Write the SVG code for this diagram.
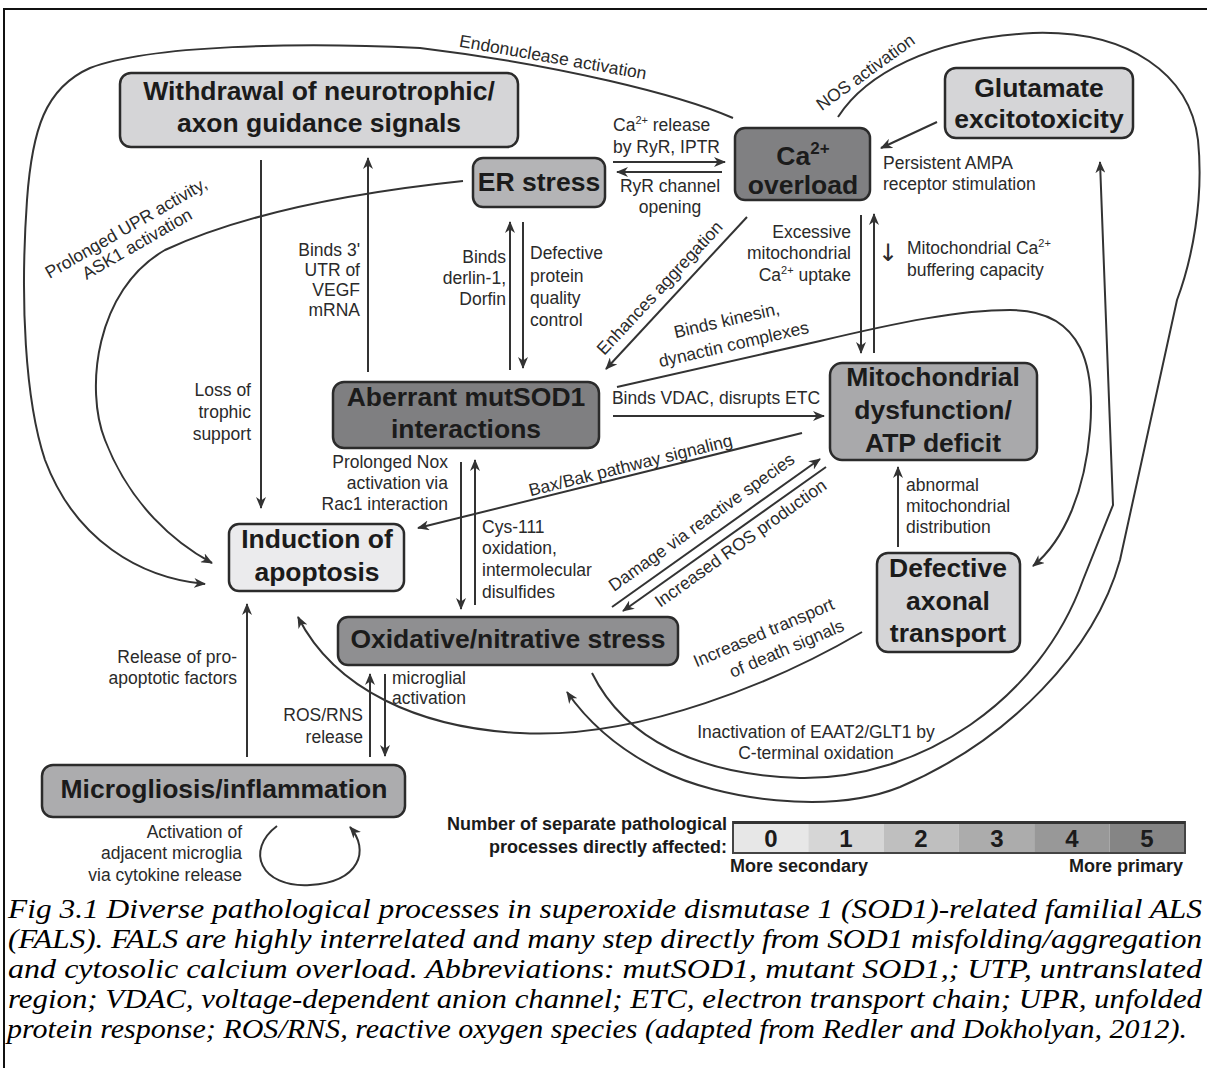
<svg xmlns="http://www.w3.org/2000/svg" width="1207" height="1068" viewBox="0 0 1207 1068">
<defs>
<style>
.box{stroke:#2b2b2b;stroke-width:2.5}
.t{font-family:"Liberation Sans",Arial,sans-serif;font-weight:bold;font-size:26.5px;fill:#1b1b1b;text-anchor:middle}
.l{font-family:"Liberation Sans",Arial,sans-serif;font-size:17.5px;fill:#2a2a2a}
.m{text-anchor:middle}
.e{text-anchor:end}
.c{fill:none;stroke:#333;stroke-width:2}
.a{marker-end:url(#ah)}
.lg{font-family:"Liberation Sans",Arial,sans-serif;font-weight:bold;font-size:18px;fill:#1b1b1b}
.num{font-family:"Liberation Sans",Arial,sans-serif;font-weight:bold;font-size:24px;fill:#1b1b1b;text-anchor:middle}
.cap{font-family:"Liberation Serif","Times New Roman",serif;font-style:italic;font-size:28px;fill:#000}
.sym{font-family:"DejaVu Sans",sans-serif;font-size:24px;fill:#2a2a2a;text-anchor:middle}
</style>
<marker id="ah" viewBox="0 0 12 10" refX="11" refY="5" markerWidth="12" markerHeight="10" markerUnits="userSpaceOnUse" orient="auto">
<path d="M0,0 L12,5 L0,10 L3.5,5 z" fill="#333"/>
</marker>
</defs>
<rect width="1207" height="1068" fill="#fff"/>
<path d="M4,1068 L4,9 L1207,9" fill="none" stroke="#111" stroke-width="2"/>

<g id="connectors">
<path class="c a" d="M733,118 C680,95 560,65 420,48 C300,42 150,45 90,68 C45,88 32,130 27,200 C20,300 25,400 45,460 C75,540 140,578 205,584"/>
<path class="c a" d="M463,181 C330,195 230,220 165,250 C95,290 85,390 105,440 C130,505 175,543 212,563"/>
<path class="c a" d="M261,160 L261,508"/>
<path class="c a" d="M368,372 L368,158"/>
<path class="c a" d="M510,370 L510,222"/>
<path class="c a" d="M523,222 L523,368"/>
<path class="c a" d="M613,162 L725,162"/>
<path class="c a" d="M722,172 L617,172"/>
<path class="c a" d="M937,122 L881,148"/>
<path class="c a" d="M838,117 C865,75 930,38 1033,33 C1130,30 1190,75 1198,140 C1204,200 1192,260 1177,300 L1120,560 C1095,650 1010,740 900,787 C830,815 720,800 660,770 C620,750 590,725 567,692"/>
<path class="c a" d="M592,673 C625,740 700,775 800,778 C920,780 1040,700 1083,580 L1113,505 L1100,162"/>
<path class="c a" d="M862,632 C780,680 640,740 520,733 C420,728 335,690 298,617"/>
<path class="c a" d="M802,433 L418,528"/>
<path class="c a" d="M613,416 L824,416"/>
<path class="c a" d="M617,387 L820,341 C900,322 960,310 1010,310 C1085,310 1095,370 1090,430 C1085,490 1065,540 1033,566"/>
<path class="c a" d="M747,217 L606,369"/>
<path class="c a" d="M861,215 L861,353"/>
<path class="c a" d="M874,353 L874,214"/>
<path class="c a" d="M612,607 L820,459"/>
<path class="c a" d="M826,467 L623,611"/>
<path class="c a" d="M898,547 L898,467"/>
<path class="c a" d="M461,462 L461,609"/>
<path class="c a" d="M475,605 L475,460"/>
<path class="c a" d="M247,757 L247,604"/>
<path class="c a" d="M370,757 L370,674"/>
<path class="c a" d="M385,674 L385,756"/>
<path class="c a" d="M277,826 C245,850 260,888 310,885 C360,882 370,850 350,827"/>
</g>

<g id="connector-labels">
<text class="l m" transform="translate(552,63) rotate(10)">Endonuclease activation</text>
<text class="l m" transform="translate(869,77) rotate(-36)">NOS activation</text>
<text class="l m" transform="translate(129,233) rotate(-30)">Prolonged UPR activity,</text>
<text class="l m" transform="translate(140,249) rotate(-30)">ASK1 activation</text>
<text class="l m" transform="translate(664,292) rotate(-47)">Enhances aggregation</text>
<text class="l m" transform="translate(728,326) rotate(-13)">Binds kinesin,</text>
<text class="l m" transform="translate(735,350) rotate(-13)">dynactin complexes</text>
<text class="l m" transform="translate(632,471) rotate(-14)">Bax/Bak pathway signaling</text>
<text class="l m" transform="translate(705,527) rotate(-35.6)">Damage via reactive species</text>
<text class="l m" transform="translate(744,548) rotate(-35.6)">Increased ROS production</text>
<text class="l m" transform="translate(766,638) rotate(-23)">Increased transport</text>
<text class="l m" transform="translate(789,654) rotate(-23)">of death signals</text>

<text class="l" x="613" y="131">Ca<tspan font-size="11" dy="-7">2+</tspan><tspan dy="7"> release</tspan></text>
<text class="l" x="613" y="153">by RyR, IPTR</text>
<text class="l m" x="670" y="192">RyR channel</text>
<text class="l m" x="670" y="213">opening</text>
<text class="l" x="883" y="169">Persistent AMPA</text>
<text class="l" x="883" y="190">receptor stimulation</text>
<text class="l e" x="851" y="238">Excessive</text>
<text class="l e" x="851" y="259">mitochondrial</text>
<text class="l e" x="851" y="281">Ca<tspan font-size="11" dy="-7">2+</tspan><tspan dy="7"> uptake</tspan></text>
<text class="sym" x="888" y="261">↓</text>
<text class="l" x="907" y="254">Mitochondrial Ca<tspan font-size="11" dy="-7">2+</tspan></text>
<text class="l" x="907" y="276">buffering capacity</text>
<text class="l e" x="360" y="256">Binds 3'</text>
<text class="l e" x="360" y="276">UTR of</text>
<text class="l e" x="360" y="296">VEGF</text>
<text class="l e" x="360" y="316">mRNA</text>
<text class="l e" x="506" y="263">Binds</text>
<text class="l e" x="506" y="284">derlin-1,</text>
<text class="l e" x="506" y="305">Dorfin</text>
<text class="l" x="530" y="259">Defective</text>
<text class="l" x="530" y="282">protein</text>
<text class="l" x="530" y="304">quality</text>
<text class="l" x="530" y="326">control</text>
<text class="l e" x="251" y="396">Loss of</text>
<text class="l e" x="251" y="418">trophic</text>
<text class="l e" x="251" y="440">support</text>
<text class="l m" x="716" y="404">Binds VDAC, disrupts ETC</text>
<text class="l e" x="448" y="468">Prolonged Nox</text>
<text class="l e" x="448" y="489">activation via</text>
<text class="l e" x="448" y="510">Rac1 interaction</text>
<text class="l" x="482" y="533">Cys-111</text>
<text class="l" x="482" y="554">oxidation,</text>
<text class="l" x="482" y="576">intermolecular</text>
<text class="l" x="482" y="598">disulfides</text>
<text class="l" x="906" y="491">abnormal</text>
<text class="l" x="906" y="512">mitochondrial</text>
<text class="l" x="906" y="533">distribution</text>
<text class="l e" x="237" y="663">Release of pro-</text>
<text class="l e" x="237" y="684">apoptotic factors</text>
<text class="l e" x="363" y="721">ROS/RNS</text>
<text class="l e" x="363" y="743">release</text>
<text class="l" x="392" y="684">microglial</text>
<text class="l" x="392" y="704">activation</text>
<text class="l m" x="816" y="738">Inactivation of EAAT2/GLT1 by</text>
<text class="l m" x="816" y="759">C-terminal oxidation</text>
<text class="l e" x="242" y="838">Activation of</text>
<text class="l e" x="242" y="859">adjacent microglia</text>
<text class="l e" x="242" y="881">via cytokine release</text>
</g>

<g id="withdrawal">
<rect class="box" x="120" y="73" width="398" height="74" rx="11" fill="#d5d5d7"/>
<text class="t" x="319" y="100">Withdrawal of neurotrophic/</text>
<text class="t" x="319" y="132">axon guidance signals</text>
</g>
<g id="er-stress">
<rect class="box" x="473" y="158" width="132" height="49" rx="10" fill="#b4b4b6"/>
<text class="t" x="539" y="191">ER stress</text>
</g>
<g id="ca-overload">
<rect class="box" x="735" y="128" width="135" height="72" rx="10" fill="#808082"/>
<text class="t" x="803" y="165">Ca<tspan font-size="17" dy="-11">2+</tspan></text>
<text class="t" x="803" y="194">overload</text>
</g>
<g id="glutamate">
<rect class="box" x="945" y="68" width="188" height="70" rx="11" fill="#d5d5d7"/>
<text class="t" x="1039" y="97">Glutamate</text>
<text class="t" x="1039" y="128">excitotoxicity</text>
</g>
<g id="aberrant">
<rect class="box" x="333" y="382" width="266" height="66" rx="11" fill="#7f7f81"/>
<text class="t" x="466" y="406">Aberrant mutSOD1</text>
<text class="t" x="466" y="438">interactions</text>
</g>
<g id="mitochondrial">
<rect class="box" x="830" y="363" width="207" height="97" rx="12" fill="#a9a9ab"/>
<text class="t" x="933" y="386">Mitochondrial</text>
<text class="t" x="933" y="419">dysfunction/</text>
<text class="t" x="933" y="452">ATP deficit</text>
</g>
<g id="apoptosis">
<rect class="box" x="229" y="524" width="175" height="67" rx="10" fill="#ebebed"/>
<text class="t" x="317" y="548">Induction of</text>
<text class="t" x="317" y="581">apoptosis</text>
</g>
<g id="oxidative">
<rect class="box" x="338" y="617" width="340" height="48" rx="10" fill="#8f8f91"/>
<text class="t" x="508" y="648">Oxidative/nitrative stress</text>
</g>
<g id="axonal-transport">
<rect class="box" x="877" y="553" width="143" height="99" rx="11" fill="#d5d5d7"/>
<text class="t" x="948" y="577">Defective</text>
<text class="t" x="948" y="610">axonal</text>
<text class="t" x="948" y="642">transport</text>
</g>
<g id="microgliosis">
<rect class="box" x="42" y="765" width="363" height="52" rx="11" fill="#acacae"/>
<text class="t" x="224" y="798">Microgliosis/inflammation</text>
</g>

<g id="legend">
<text class="lg" x="727" y="830" text-anchor="end">Number of separate pathological</text>
<text class="lg" x="727" y="853" text-anchor="end">processes directly affected:</text>
<rect x="733" y="822" width="75.3" height="31" fill="#e7e7e7"/>
<rect x="808.3" y="822" width="75.3" height="31" fill="#d6d6d6"/>
<rect x="883.6" y="822" width="75.3" height="31" fill="#bfbfbf"/>
<rect x="958.9" y="822" width="75.3" height="31" fill="#acacac"/>
<rect x="1034.2" y="822" width="75.3" height="31" fill="#989898"/>
<rect x="1109.5" y="822" width="75.5" height="31" fill="#858585"/>
<rect x="733" y="822" width="452" height="31" fill="none" stroke="#444" stroke-width="2"/>
<path d="M733,822.5 L1185,822.5" stroke="#333" stroke-width="3"/>
<text class="num" x="771" y="847">0</text>
<text class="num" x="846" y="847">1</text>
<text class="num" x="921" y="847">2</text>
<text class="num" x="997" y="847">3</text>
<text class="num" x="1072" y="847">4</text>
<text class="num" x="1147" y="847">5</text>
<text class="lg" x="730" y="872">More secondary</text>
<text class="lg" x="1183" y="872" text-anchor="end">More primary</text>
</g>

<g id="caption">
<text class="cap" x="8" y="918" textLength="1194" lengthAdjust="spacingAndGlyphs">Fig 3.1 Diverse pathological processes in superoxide dismutase 1 (SOD1)-related familial ALS</text>
<text class="cap" x="8" y="948" textLength="1194" lengthAdjust="spacingAndGlyphs">(FALS). FALS are highly interrelated and many step directly from SOD1 misfolding/aggregation</text>
<text class="cap" x="8" y="978" textLength="1194" lengthAdjust="spacingAndGlyphs">and cytosolic calcium overload. Abbreviations: mutSOD1, mutant SOD1,; UTP, untranslated</text>
<text class="cap" x="8" y="1008" textLength="1194" lengthAdjust="spacingAndGlyphs">region; VDAC, voltage-dependent anion channel; ETC, electron transport chain; UPR, unfolded</text>
<text class="cap" x="7" y="1038" textLength="1180" lengthAdjust="spacingAndGlyphs">protein response; ROS/RNS, reactive oxygen species (adapted from Redler and Dokholyan, 2012).</text>
</g>
</svg>
